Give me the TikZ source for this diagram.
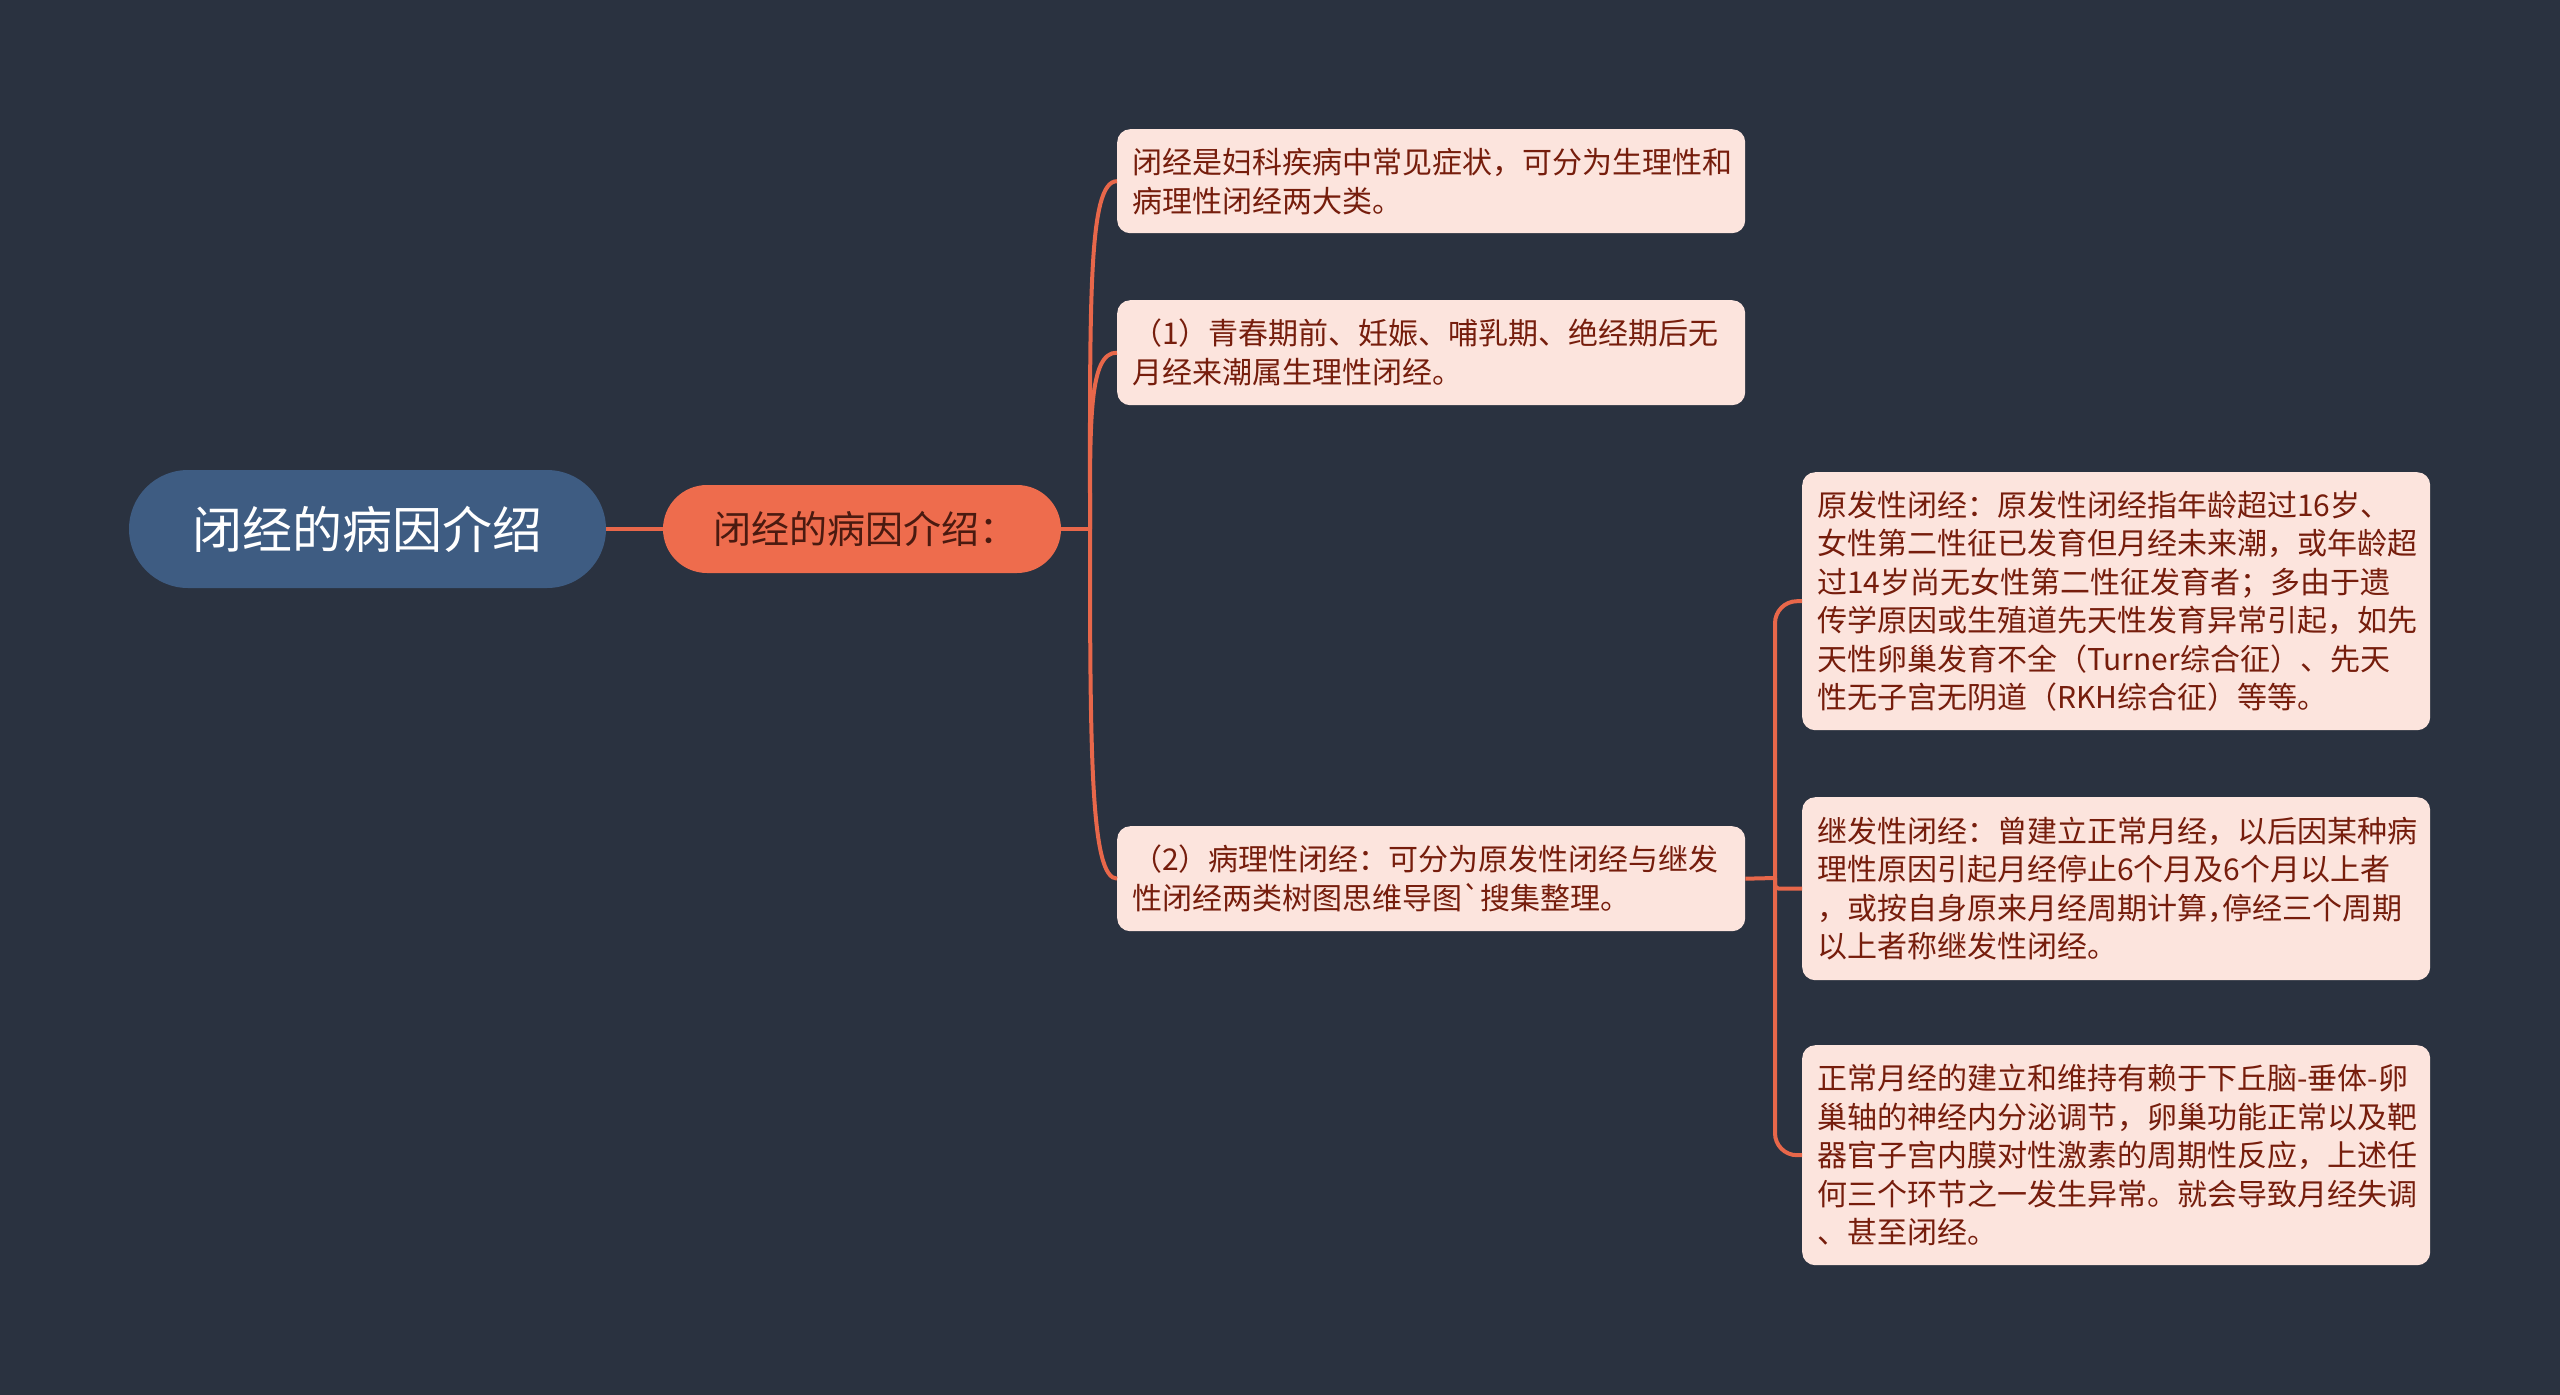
\documentclass[tikz,border=0pt]{standalone}
\usepackage{fontspec}
\newfontfamily\cjk{Noto Sans CJK SC}
\newcommand\hcomma{\makebox[0.5em][l]{，}}
\definecolor{bgc}{HTML}{2A3240}
\definecolor{rootc}{HTML}{3E5C82}
\definecolor{midc}{HTML}{EE6C4D}
\definecolor{leafc}{HTML}{FCE4DD}
\definecolor{leaftxt}{HTML}{761D0C}
\definecolor{midtxt}{HTML}{4A1A10}
\definecolor{linec}{HTML}{E8674A}
\begin{document}
\begin{tikzpicture}[x=1pt,y=-1pt,
  conn/.style={draw=linec, line width=4pt},
  rootbox/.style={fill=rootc, text=white, rounded corners=59pt, minimum width=477pt, minimum height=118pt, inner sep=0pt, font={\cjk\fontsize{50}{60}\selectfont}},
  midbox/.style={fill=midc, text=midtxt, rounded corners=44pt, minimum width=398pt, minimum height=88pt, inner sep=0pt, font={\cjk\fontsize{38}{46}\selectfont}},
  leafbox/.style={fill=leafc, text=leaftxt, rounded corners=13pt, anchor=north west, inner xsep=15pt, inner ysep=0pt, text width=598pt, align=left, font={\cjk\fontsize{30}{39}\selectfont}},
  childbox/.style={leafbox, font={\cjk\fontsize{30}{38.5}\selectfont}}
]
\fill[bgc] (0,0) rectangle (2560,1395);
\useasboundingbox (0,0) rectangle (2560,1395);

\node[rootbox] (root) at (367.5,529) {闭经的病因介绍};
\node[midbox] (mid) at (862,529) {\hspace*{6pt}闭经的病因介绍：};

\node[leafbox, minimum height=104pt] (l1) at (1117,129) {闭经是妇科疾病中常见症状，可分为生理性和\\病理性闭经两大类。};
\node[leafbox, minimum height=105pt] (l2) at (1117,300) {（1）青春期前、妊娠、哺乳期、绝经期后无\\月经来潮属生理性闭经。};
\node[leafbox, minimum height=105pt] (l3) at (1117,826) {（2）病理性闭经：可分为原发性闭经与继发\\性闭经两类树图思维导图\char"60 搜集整理。};

\node[childbox, minimum height=258pt] (ca) at (1802,472) {原发性闭经：原发性闭经指年龄超过16岁、\\女性第二性征已发育但月经未来潮，或年龄超\\过14岁尚无女性第二性征发育者；多由于遗\\传学原因或生殖道先天性发育异常引起，如先\\天性卵巢发育不全（Turner综合征）、先天\\性无子宫无阴道（RKH综合征）等等。};
\node[childbox, minimum height=183pt] (cb) at (1802,797) {继发性闭经：曾建立正常月经，以后因某种病\\理性原因引起月经停止6个月及6个月以上者\\，或按自身原来月经周期计算\hcomma 停经三个周期\\以上者称继发性闭经。};
\node[childbox, minimum height=220pt] (cc) at (1802,1045) {正常月经的建立和维持有赖于下丘脑-垂体-卵\\巢轴的神经内分泌调节，卵巢功能正常以及靶\\器官子宫内膜对性激素的周期性反应，上述任\\何三个环节之一发生异常。就会导致月经失调\\、甚至闭经。};

\draw[conn, line width=4.5pt] (root.east) -- (mid.west);

\coordinate (hub1) at (1090,529);
\draw[conn] (mid.east) -- (hub1);
\draw[conn] (hub1) .. controls (1090,300) and (1088,181) .. (l1.west);
\draw[conn] (hub1) .. controls (1090,420) and (1089,352) .. (l2.west);
\draw[conn] (hub1) .. controls (1090,760) and (1091,878) .. (l3.west);

\coordinate (hub2) at (1775,878);
\draw[conn] (l3.east) -- (hub2);
\draw[conn, rounded corners=22pt] (hub2) |- (ca.west);
\draw[conn, rounded corners=4pt] (hub2) |- (cb.west);
\draw[conn, rounded corners=22pt] (hub2) |- (cc.west);
\end{tikzpicture}
\end{document}
